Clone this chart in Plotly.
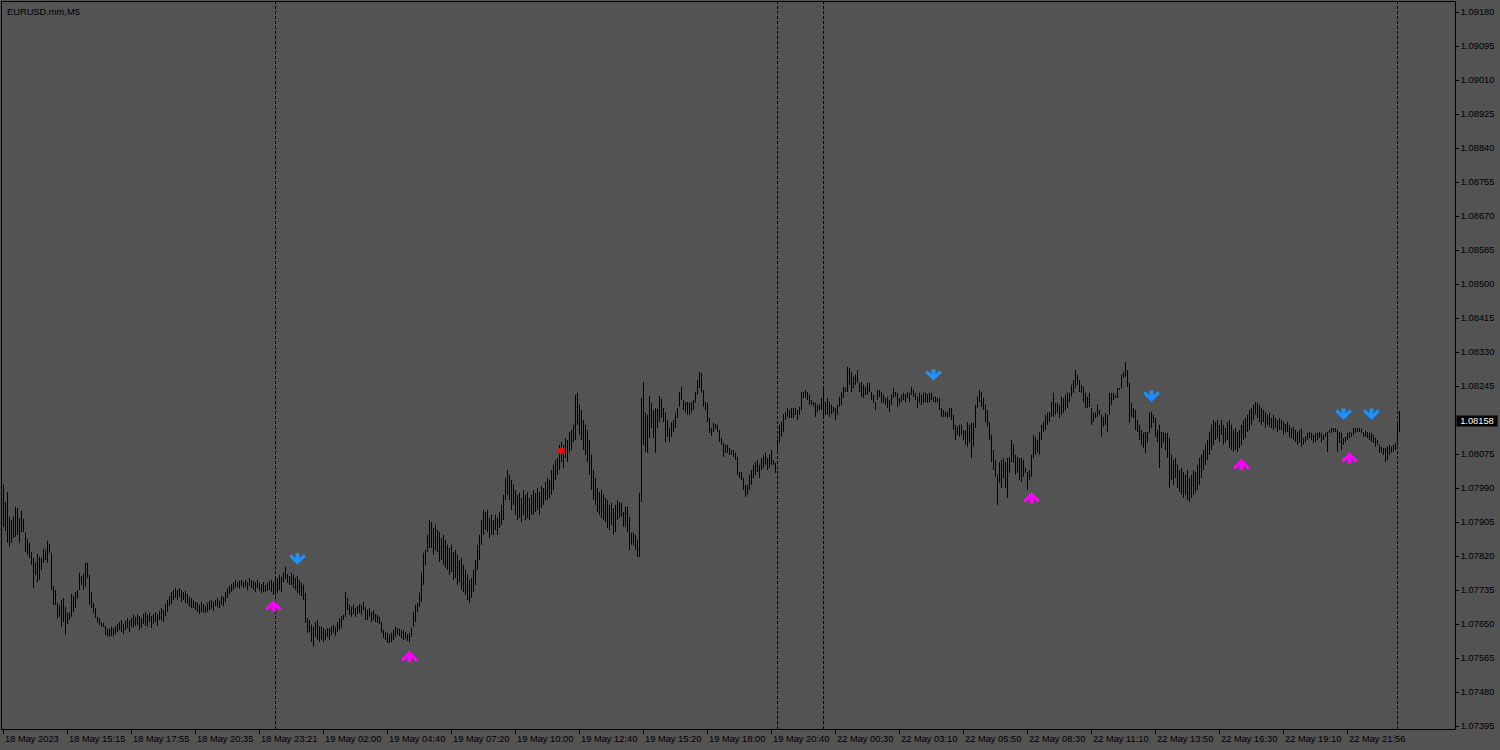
import plotly.graph_objects as go

symbol_title = "EURUSD.mm,M5"

# bar highs / lows in points (0.00001) above 1.07000, one value per M5 bar
high_pts = [
    998, 955, 980, 918, 910, 918, 943, 940, 915, 933,
    913, 878, 863, 853, 830, 815, 803, 825, 818, 815,
    838, 835, 858, 850, 828, 745, 735, 703, 698, 710,
    715, 693, 678, 680, 725, 720, 730, 735, 778, 770,
    775, 803, 803, 773, 730, 703, 690, 668, 665, 655,
    653, 645, 638, 638, 643, 640, 645, 650, 655, 660,
    650, 658, 665, 660, 665, 673, 668, 675, 670, 665,
    675, 680, 673, 678, 670, 675, 680, 675, 683, 690,
    685, 700, 710, 720, 730, 735, 740, 735, 740, 735,
    730, 733, 725, 718, 715, 710, 705, 703, 698, 705,
    700, 695, 703, 708, 710, 705, 710, 715, 708, 720,
    718, 730, 740, 745, 750, 755, 760, 755, 758, 760,
    755, 760, 755, 765, 760, 758, 755, 760, 753, 750,
    755, 748, 753, 758, 760, 755, 768, 765, 773, 768,
    780, 793, 775, 770, 778, 773, 765, 770, 760, 753,
    748, 728, 665, 660, 648, 643, 655, 660, 645, 643,
    640, 635, 640, 640, 645, 648, 643, 655, 663, 670,
    673, 730, 715, 698, 693, 698, 690, 695, 700, 698,
    705, 693, 685, 690, 680, 685, 675, 673, 668, 655,
    635, 630, 628, 623, 628, 635, 643, 640, 638, 635,
    633, 630, 625, 628, 640, 680, 698, 703, 728, 778,
    828, 835, 873, 910, 905, 890, 898, 885, 880, 865,
    873, 860, 848, 840, 848, 830, 835, 823, 810, 815,
    798, 785, 773, 760, 765, 785, 810, 848, 873, 910,
    935, 930, 935, 915, 923, 910, 923, 915, 930, 948,
    973, 1015, 1035, 1023, 1010, 998, 985, 973, 978, 965,
    985, 973, 980, 965, 973, 985, 978, 990, 980, 995,
    990, 1005, 1015, 1010, 1035, 1048, 1060, 1065, 1098, 1105,
    1098, 1115, 1110, 1130, 1135, 1148, 1223, 1228, 1198, 1185,
    1160, 1148, 1135, 1110, 1073, 1035, 1015, 990, 980, 985,
    973, 965, 960, 948, 953, 940, 948, 960, 955, 953,
    930, 943, 943, 918, 878, 878, 873, 860, 978, 1215,
    1255, 1178, 1173, 1220, 1203, 1185, 1190, 1188, 1220, 1213,
    1190, 1178, 1160, 1140, 1155, 1160, 1178, 1190, 1230, 1243,
    1210, 1205, 1205, 1203, 1205, 1210, 1230, 1260, 1280, 1278,
    1235, 1205, 1203, 1165, 1140, 1153, 1150, 1148, 1135, 1115,
    1103, 1098, 1098, 1090, 1085, 1085, 1078, 1068, 1030, 1030,
    1015, 998, 998, 1023, 1035, 1048, 1055, 1060, 1048, 1065,
    1073, 1078, 1065, 1073, 1085, 1060, 1053, 1110, 1148, 1155,
    1175, 1180, 1190, 1185, 1190, 1190, 1190, 1185, 1193, 1230,
    1230, 1235, 1230, 1223, 1210, 1205, 1203, 1198, 1200, 1215,
    1243, 1205, 1215, 1205, 1198, 1193, 1190, 1198, 1218, 1230,
    1243, 1240, 1293, 1290, 1280, 1268, 1273, 1285, 1253, 1255,
    1248, 1243, 1253, 1253, 1230, 1223, 1205, 1235, 1235, 1230,
    1223, 1215, 1218, 1210, 1223, 1240, 1230, 1228, 1215, 1223,
    1228, 1225, 1230, 1228, 1243, 1235, 1228, 1218, 1228, 1223,
    1228, 1228, 1225, 1228, 1228, 1218, 1218, 1215, 1215, 1190,
    1185, 1180, 1180, 1190, 1190, 1173, 1148, 1143, 1148, 1148,
    1135, 1135, 1155, 1148, 1153, 1153, 1198, 1218, 1235, 1230,
    1215, 1198, 1185, 1155, 1123, 1085, 1060, 1023, 1055, 1060,
    1065, 1055, 1065, 1068, 1110, 1098, 1073, 1068, 1065, 1065,
    1060, 1040, 1030, 1035, 1073, 1123, 1118, 1110, 1130, 1148,
    1155, 1173, 1178, 1180, 1205, 1228, 1203, 1203, 1198, 1218,
    1215, 1223, 1228, 1228, 1248, 1260, 1285, 1273, 1260, 1248,
    1243, 1228, 1218, 1228, 1190, 1178, 1180, 1198, 1185, 1173,
    1168, 1178, 1173, 1228, 1228, 1228, 1223, 1240, 1240, 1273,
    1280, 1305, 1285, 1253, 1203, 1190, 1185, 1160, 1148, 1135,
    1128, 1130, 1130, 1178, 1180, 1173, 1165, 1135, 1148, 1130,
    1130, 1128, 1128, 1115, 1073, 1060, 1065, 1048, 1035, 1040,
    1030, 1023, 1035, 1015, 1023, 1035, 1030, 1048, 1065, 1073,
    1085, 1098, 1110, 1130, 1148, 1160, 1155, 1160, 1148, 1160,
    1148, 1140, 1155, 1160, 1148, 1135, 1140, 1130, 1135, 1148,
    1160, 1165, 1173, 1185, 1190, 1198, 1205, 1203, 1198, 1190,
    1185, 1180, 1173, 1178, 1165, 1173, 1165, 1160, 1165, 1160,
    1155, 1150, 1155, 1148, 1140, 1143, 1135, 1130, 1135, 1138,
    1115, 1118, 1128, 1130, 1128, 1123, 1128, 1128, 1130, 1128,
    1123, 1128, 1130, 1135, 1140, 1140, 1140, 1135, 1130, 1128,
    1115, 1118, 1128, 1130, 1128, 1140, 1140, 1140, 1140, 1138,
    1130, 1133, 1130, 1128, 1128, 1123, 1115, 1110, 1098, 1093,
    1090, 1090, 1093, 1098, 1093, 1098, 1103, 1155, 1183,
]

low_pts = [
    893, 883, 853, 843, 853, 865, 868, 873, 853, 880,
    880, 830, 823, 815, 798, 740, 773, 755, 760, 785,
    803, 810, 803, 828, 735, 698, 698, 663, 668, 643,
    655, 623, 650, 660, 668, 680, 690, 713, 735, 748,
    735, 743, 765, 698, 690, 678, 665, 653, 648, 643,
    643, 623, 618, 618, 620, 620, 625, 630, 635, 630,
    625, 635, 640, 630, 643, 640, 645, 648, 635, 640,
    650, 645, 643, 655, 640, 650, 655, 645, 660, 660,
    655, 670, 680, 695, 700, 710, 715, 710, 718, 705,
    710, 703, 700, 693, 690, 690, 685, 680, 675, 680,
    678, 678, 680, 685, 688, 683, 695, 693, 690, 698,
    695, 705, 715, 725, 730, 735, 740, 743, 738, 745,
    740, 743, 735, 745, 740, 735, 730, 740, 733, 728,
    730, 730, 733, 735, 730, 723, 723, 728, 735, 730,
    755, 763, 753, 748, 748, 740, 735, 728, 723, 720,
    710, 653, 628, 630, 605, 593, 618, 610, 605, 610,
    605, 610, 618, 610, 623, 628, 620, 630, 635, 640,
    660, 668, 685, 673, 668, 675, 668, 675, 678, 673,
    685, 660, 660, 668, 655, 660, 655, 653, 650, 628,
    615, 610, 603, 603, 605, 610, 618, 623, 620, 615,
    610, 613, 608, 605, 618, 643, 655, 680, 693, 705,
    748, 798, 830, 840, 840, 823, 835, 830, 805, 810,
    798, 790, 785, 773, 780, 760, 765, 748, 755, 735,
    730, 723, 710, 703, 715, 730, 748, 785, 810, 848,
    873, 885, 880, 865, 873, 873, 885, 873, 890, 898,
    910, 960, 973, 960, 935, 948, 923, 910, 915, 905,
    923, 910, 915, 910, 923, 923, 930, 935, 923, 940,
    948, 960, 960, 965, 973, 985, 1010, 1023, 1035, 1055,
    1040, 1065, 1055, 1080, 1085, 1105, 1110, 1148, 1123, 1110,
    1085, 1073, 1055, 1023, 985, 960, 948, 930, 923, 915,
    910, 905, 890, 885, 898, 873, 880, 910, 915, 918,
    893, 893, 880, 835, 848, 848, 835, 818, 818, 955,
    1098, 1080, 1078, 1115, 1140, 1115, 1078, 1140, 1155, 1165,
    1155, 1105, 1118, 1105, 1118, 1130, 1140, 1165, 1193, 1210,
    1185, 1178, 1173, 1173, 1178, 1185, 1203, 1223, 1240, 1228,
    1193, 1185, 1155, 1128, 1120, 1130, 1138, 1130, 1105, 1098,
    1068, 1078, 1078, 1073, 1073, 1068, 1060, 1023, 1015, 1010,
    985, 968, 973, 985, 998, 1015, 1023, 1030, 1015, 1035,
    1040, 1048, 1035, 1040, 1048, 1048, 1028, 1080, 1103, 1118,
    1130, 1160, 1168, 1165, 1165, 1165, 1173, 1160, 1173, 1185,
    1215, 1215, 1210, 1198, 1198, 1193, 1168, 1180, 1185, 1185,
    1165, 1173, 1173, 1168, 1175, 1178, 1160, 1173, 1193, 1198,
    1215, 1230, 1230, 1248, 1230, 1240, 1248, 1253, 1230, 1218,
    1215, 1223, 1223, 1230, 1210, 1203, 1185, 1210, 1218, 1203,
    1203, 1198, 1190, 1180, 1198, 1215, 1218, 1193, 1198, 1205,
    1210, 1205, 1215, 1205, 1223, 1218, 1210, 1190, 1203, 1198,
    1203, 1205, 1203, 1205, 1210, 1205, 1203, 1205, 1185, 1168,
    1168, 1168, 1165, 1168, 1160, 1135, 1110, 1123, 1118, 1123,
    1110, 1098, 1093, 1103, 1065, 1093, 1140, 1190, 1205, 1193,
    1185, 1155, 1143, 1110, 1055, 1035, 1018, 948, 1003, 990,
    1015, 990, 965, 1028, 1055, 1053, 1023, 1028, 1010, 1005,
    1018, 1028, 985, 1010, 1018, 1065, 1073, 1078, 1073, 1110,
    1130, 1135, 1148, 1155, 1168, 1168, 1173, 1178, 1165, 1173,
    1178, 1185, 1190, 1205, 1218, 1228, 1240, 1248, 1230, 1228,
    1205, 1190, 1190, 1193, 1148, 1155, 1165, 1168, 1173, 1118,
    1143, 1148, 1130, 1173, 1198, 1210, 1215, 1215, 1235, 1240,
    1265, 1268, 1243, 1153, 1168, 1165, 1135, 1130, 1110, 1098,
    1090, 1078, 1103, 1128, 1140, 1153, 1118, 1105, 1040, 1090,
    1103, 1085, 1065, 990, 1010, 998, 1015, 990, 980, 973,
    965, 973, 960, 955, 965, 973, 978, 985, 998, 1015,
    1035, 1048, 1060, 1073, 1085, 1098, 1110, 1115, 1105, 1123,
    1098, 1105, 1110, 1090, 1085, 1080, 1085, 1080, 1090, 1098,
    1110, 1115, 1130, 1135, 1148, 1160, 1173, 1165, 1155, 1148,
    1155, 1140, 1148, 1143, 1140, 1135, 1140, 1130, 1135, 1135,
    1123, 1128, 1130, 1118, 1115, 1110, 1105, 1098, 1103, 1093,
    1098, 1105, 1110, 1115, 1110, 1103, 1105, 1110, 1115, 1105,
    1110, 1118, 1080, 1128, 1128, 1130, 1130, 1080, 1103, 1085,
    1098, 1105, 1110, 1115, 1118, 1123, 1128, 1130, 1130, 1128,
    1118, 1118, 1115, 1110, 1105, 1103, 1093, 1098, 1078, 1078,
    1073, 1055, 1060, 1073, 1078, 1080, 1085, 1098, 1130,
]

price_base = 1.07
time_labels = [
    "18 May 2023", "18 May 15:15", "18 May 17:55", "18 May 20:35", "18 May 23:21",
    "19 May 02:00", "19 May 04:40", "19 May 07:20", "19 May 10:00", "19 May 12:40",
    "19 May 15:20", "19 May 18:00", "19 May 20:40", "22 May 00:30", "22 May 03:10",
    "22 May 05:50", "22 May 08:30", "22 May 11:10", "22 May 13:50", "22 May 16:30",
    "22 May 19:10", "22 May 21:56",
]
bars_per_label = 32
price_tick0 = 1.07395
price_tick_step = 0.00085
last_price = 1.08158

separator_bars = [136, 387, 410, 697]
buy_arrow_bars = [135, 203, 514, 619, 673]
buy_arrow_prices = [1.07695, 1.07568, 1.07965, 1.08048, 1.08065]
sell_arrow_bars = [147, 465, 574, 670, 684]
sell_arrow_prices = [1.07813, 1.08273, 1.08220, 1.08175, 1.08175]
dot_bars = [279]
dot_prices = [1.08083]

BG = "#535353"
FONT = "Liberation Sans, Arial, sans-serif"

highs = [price_base + h / 100000 for h in high_pts]
lows = [price_base + l / 100000 for l in low_pts]

xs, ys = [], []
for i, (h, l) in enumerate(zip(highs, lows)):
    xs += [i, i, None]
    ys += [l, h, None]

fig = go.Figure()
fig.add_trace(go.Scatter(x=xs, y=ys, mode="lines",
                         line=dict(color="black", width=1),
                         hoverinfo="skip", connectgaps=False))
fig.add_trace(go.Scatter(x=dot_bars, y=dot_prices, mode="markers",
                         marker=dict(color="#FF0000", size=7, line=dict(width=0)),
                         hoverinfo="skip"))

for b in separator_bars:
    fig.add_shape(type="line", xref="x", yref="paper", x0=b, x1=b, y0=0, y1=1,
                  line=dict(color="black", width=1, dash="3px,2px"))

ann = []
for b, p in zip(buy_arrow_bars, buy_arrow_prices):
    ann.append(dict(x=b, y=p, xref="x", yref="y", text="", showarrow=True,
                    ax=0, ay=13, yshift=6, arrowhead=4, arrowsize=0.7,
                    arrowwidth=4, arrowcolor="#FF00FF", standoff=0))
for b, p in zip(sell_arrow_bars, sell_arrow_prices):
    ann.append(dict(x=b, y=p, xref="x", yref="y", text="", showarrow=True,
                    ax=0, ay=-13, yshift=-6, arrowhead=4, arrowsize=0.7,
                    arrowwidth=4, arrowcolor="#1E90FF", standoff=0))

for k, lab in enumerate(time_labels):
    ann.append(dict(x=k * bars_per_label, y=0, xref="x", yref="paper",
                    text=lab, showarrow=False, xanchor="left", yanchor="top",
                    xshift=-1, yshift=-3,
                    font=dict(family=FONT, size=9.3, color="black")))

ann.append(dict(x=0, y=1, xref="paper", yref="paper", text=symbol_title,
                showarrow=False, xanchor="left", yanchor="top", xshift=3, yshift=-3,
                font=dict(family=FONT, size=9.3, color="black")))

ann.append(dict(x=1, y=last_price, xref="paper", yref="y", text=f"{last_price:.5f}",
                showarrow=False, xanchor="left", yanchor="middle", xshift=1,
                bgcolor="black", width=40, height=10, borderpad=0,
                font=dict(family=FONT, size=9.3, color="white")))

fig.update_layout(
    width=1500, height=750,
    margin=dict(l=2, r=45, t=2, b=21),
    paper_bgcolor=BG, plot_bgcolor=BG,
    showlegend=False,
    font=dict(family=FONT, size=9.3, color="black"),
    annotations=ann,
    hovermode=False,
)
fig.update_xaxes(range=[-0.75, 725.75], showgrid=False, zeroline=False,
                 showline=True, mirror=True, linecolor="black", linewidth=1,
                 ticks="outside", ticklen=4, tickcolor="black", tickwidth=1,
                 tickvals=[k * bars_per_label for k in range(len(time_labels))],
                 showticklabels=False, fixedrange=True)
fig.update_yaxes(range=[1.073875, 1.09205], side="right", showgrid=False,
                 zeroline=False, showline=True, mirror=True, linecolor="black",
                 linewidth=1, ticks="outside", ticklen=3, tickcolor="black",
                 tickmode="linear", tick0=price_tick0, dtick=price_tick_step,
                 tickformat=".5f",
                 tickfont=dict(family=FONT, size=9.3, color="black"),
                 fixedrange=True)

fig.write_html("out.html", config={"displayModeBar": False},
               post_script="document.body.style.margin='0px';"
                           "document.body.style.overflow='hidden';"
                           "document.body.style.background='" + BG + "';")
